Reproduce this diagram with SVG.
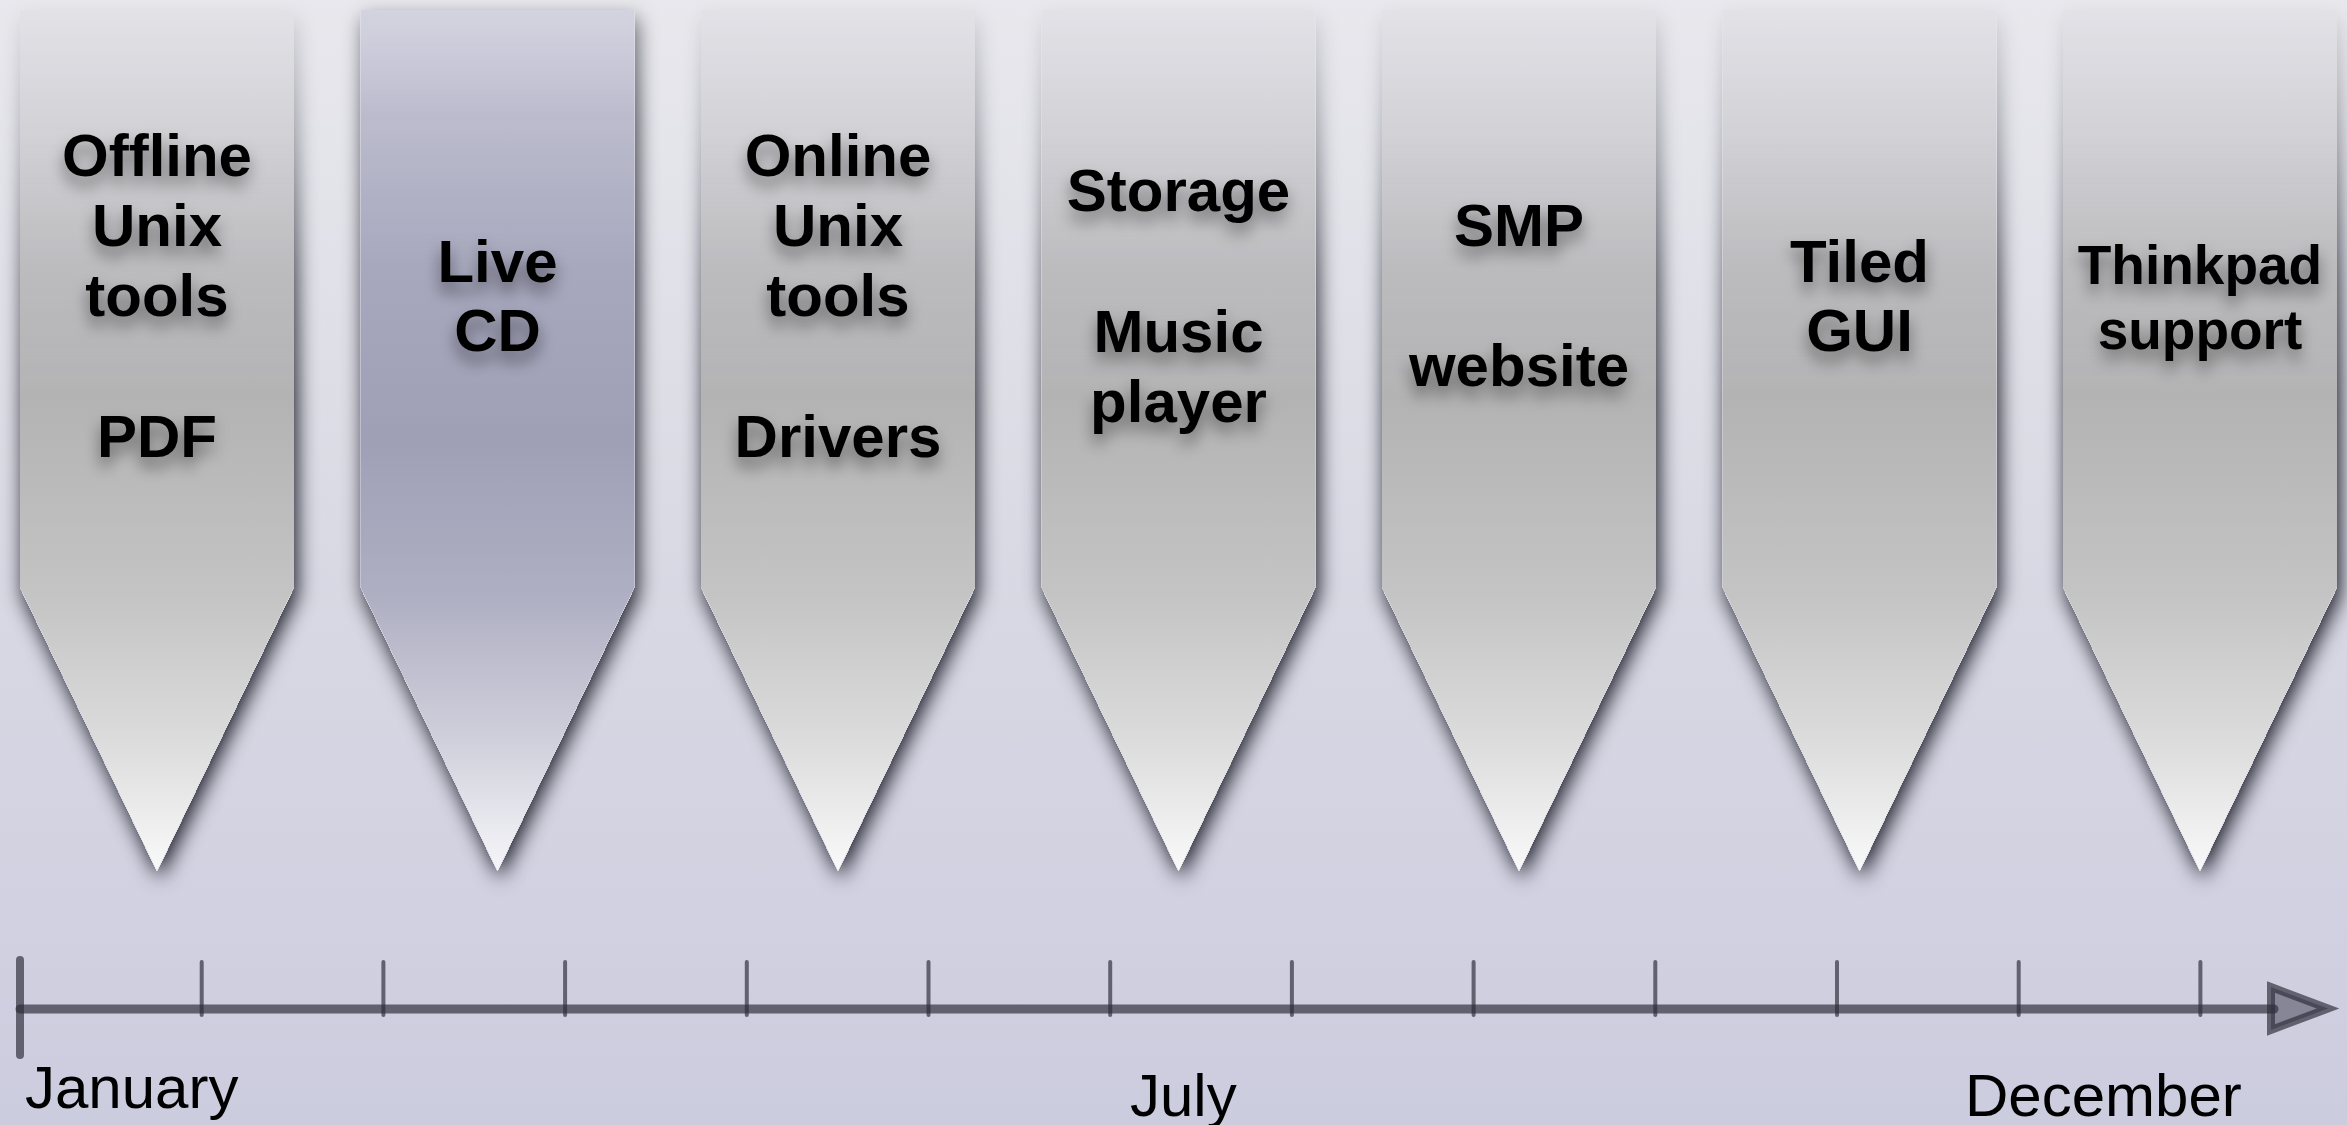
<svg xmlns="http://www.w3.org/2000/svg" width="2347" height="1125" viewBox="0 0 2347 1125">
<defs>
<linearGradient id="bg" x1="0" y1="0" x2="0" y2="1">
<stop offset="0" stop-color="#e8e8ed"/>
<stop offset="0.5" stop-color="#d9d9e4"/>
<stop offset="1" stop-color="#ccccdf"/>
</linearGradient>
<linearGradient id="grey" gradientUnits="userSpaceOnUse" x1="0" y1="10" x2="0" y2="871">
<stop offset="0" stop-color="#bcbcbe" stop-opacity="0.12"/>
<stop offset="0.15" stop-color="#b9b9bb" stop-opacity="0.45"/>
<stop offset="0.3" stop-color="#b5b5b7" stop-opacity="0.85"/>
<stop offset="0.45" stop-color="#b3b3b4" stop-opacity="1"/>
<stop offset="0.68" stop-color="#c4c4c5"/>
<stop offset="0.85" stop-color="#dcdcdc"/>
<stop offset="1" stop-color="#f9f9f9"/>
</linearGradient>
<linearGradient id="blue" gradientUnits="userSpaceOnUse" x1="0" y1="10" x2="0" y2="871">
<stop offset="0" stop-color="#c6c6d8" stop-opacity="0.6"/>
<stop offset="0.12" stop-color="#b4b4c8" stop-opacity="0.85"/>
<stop offset="0.3" stop-color="#a7a7bd"/>
<stop offset="0.5" stop-color="#9f9fb6"/>
<stop offset="0.68" stop-color="#afafc3"/>
<stop offset="0.85" stop-color="#d0d0dc"/>
<stop offset="1" stop-color="#f6f6f9"/>
</linearGradient>
<filter id="shadow" x="-20%" y="-10%" width="140%" height="125%" color-interpolation-filters="sRGB">
<feComponentTransfer in="SourceAlpha" result="solid"><feFuncA type="linear" slope="60"/></feComponentTransfer>
<feGaussianBlur in="SourceAlpha" stdDeviation="10" result="b"/>
<feOffset in="b" dx="3" dy="8" result="o"/>
<feFlood flood-color="#1a1a26" flood-opacity="1"/>
<feComposite in2="o" operator="in" result="s"/>
<feComposite in="s" in2="solid" operator="out" result="s2"/>
<feMerge><feMergeNode in="s2"/><feMergeNode in="SourceGraphic"/></feMerge>
</filter>
<filter id="tshadow" x="-20%" y="-30%" width="140%" height="180%">
<feDropShadow dx="0" dy="10" stdDeviation="8" flood-color="#000" flood-opacity="0.45"/>
</filter>
</defs>
<style>
.shape{filter:url(#shadow)}
.g{fill:url(#grey)}
.b{fill:url(#blue)}
.lbl{font-family:"Liberation Sans",Arial,sans-serif;font-weight:bold;font-size:60px;fill:#000;text-anchor:middle;filter:url(#tshadow)}
.sm{font-size:55px}
.month{font-family:"Liberation Sans",Arial,sans-serif;font-size:60px;fill:#000}
.ax{stroke:#2c2c3a;stroke-opacity:0.68;stroke-linecap:round;fill:none}
</style>
<rect x="0" y="0" width="2347" height="1125" fill="url(#bg)"/>

<g id="node-offline">
<path class="shape g" d="M20,10 H294 V587 L157,871 L20,587 Z"/>
<text class="lbl"><tspan x="157" y="176">Offline</tspan><tspan x="157" y="246">Unix</tspan><tspan x="157" y="316">tools</tspan><tspan x="157" y="457">PDF</tspan></text>
</g>
<g id="node-livecd">
<path class="shape b" d="M360.5,10 H634.5 V587 L497.5,871 L360.5,587 Z"/>
<text class="lbl"><tspan x="497.5" y="282">Live</tspan><tspan x="497.5" y="351">CD</tspan></text>
</g>
<g id="node-online">
<path class="shape g" d="M701,10 H975 V587 L838,871 L701,587 Z"/>
<text class="lbl"><tspan x="838" y="176">Online</tspan><tspan x="838" y="246">Unix</tspan><tspan x="838" y="316">tools</tspan><tspan x="838" y="457">Drivers</tspan></text>
</g>
<g id="node-storage">
<path class="shape g" d="M1041.5,10 H1315.5 V587 L1178.5,871 L1041.5,587 Z"/>
<text class="lbl"><tspan x="1178.5" y="211">Storage</tspan><tspan x="1178.5" y="352">Music</tspan><tspan x="1178.5" y="422">player</tspan></text>
</g>
<g id="node-smp">
<path class="shape g" d="M1382,10 H1656 V587 L1519,871 L1382,587 Z"/>
<text class="lbl"><tspan x="1519" y="246">SMP</tspan><tspan x="1519" y="386">website</tspan></text>
</g>
<g id="node-tiled">
<path class="shape g" d="M1722.5,10 H1996.5 V587 L1859.5,871 L1722.5,587 Z"/>
<text class="lbl"><tspan x="1859.5" y="282">Tiled</tspan><tspan x="1859.5" y="351">GUI</tspan></text>
</g>
<g id="node-thinkpad">
<path class="shape g" d="M2063,10 H2337 V587 L2200,871 L2063,587 Z"/>
<text class="lbl sm"><tspan x="2200" y="284">Thinkpad</tspan><tspan x="2200" y="349">support</tspan></text>
</g>

<g id="connectors">
<line class="ax" x1="20" y1="1009" x2="2274" y2="1009" stroke-width="9"/>
<line class="ax" x1="20" y1="960" x2="20" y2="1055" stroke-width="8"/>
<g stroke-width="4">
<line class="ax" x1="201.7" y1="962" x2="201.7" y2="1015"/>
<line class="ax" x1="383.4" y1="962" x2="383.4" y2="1015"/>
<line class="ax" x1="565.1" y1="962" x2="565.1" y2="1015"/>
<line class="ax" x1="746.8" y1="962" x2="746.8" y2="1015"/>
<line class="ax" x1="928.5" y1="962" x2="928.5" y2="1015"/>
<line class="ax" x1="1110.2" y1="962" x2="1110.2" y2="1015"/>
<line class="ax" x1="1291.9" y1="962" x2="1291.9" y2="1015"/>
<line class="ax" x1="1473.6" y1="962" x2="1473.6" y2="1015"/>
<line class="ax" x1="1655.3" y1="962" x2="1655.3" y2="1015"/>
<line class="ax" x1="1837" y1="962" x2="1837" y2="1015"/>
<line class="ax" x1="2018.7" y1="962" x2="2018.7" y2="1015"/>
<line class="ax" x1="2200.4" y1="962" x2="2200.4" y2="1015"/>
</g>
<polygon points="2271,987 2328,1008.5 2271,1030" fill="#2c2c3a" fill-opacity="0.45" stroke="#2c2c3a" stroke-opacity="0.68" stroke-width="8" stroke-linejoin="miter"/>
</g>

<g id="labels">
<text class="month" x="25" y="1108">January</text>
<text class="month" x="1130" y="1116">July</text>
<text class="month" x="1965" y="1116">December</text>
</g>
</svg>
